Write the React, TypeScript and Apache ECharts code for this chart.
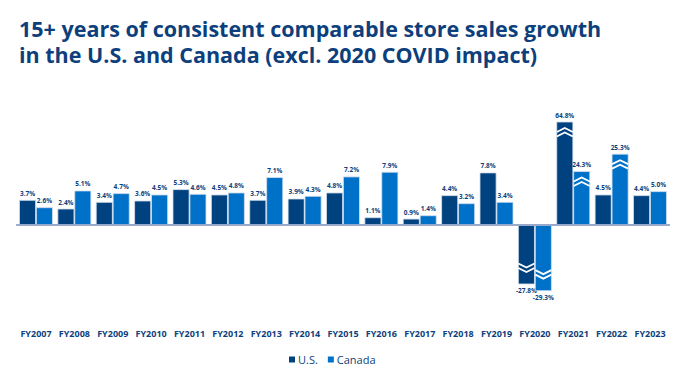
import React, { useEffect, useRef } from "react";
import * as echarts from "echarts";

const categories = [
  "FY2007", "FY2008", "FY2009", "FY2010", "FY2011", "FY2012", "FY2013", "FY2014", "FY2015",
  "FY2016", "FY2017", "FY2018", "FY2019", "FY2020", "FY2021", "FY2022", "FY2023",
];
const usValues = [3.7, 2.4, 3.4, 3.6, 5.3, 4.5, 3.7, 3.9, 4.8, 1.1, 0.9, 4.4, 7.8, -27.8, 64.8, 4.5, 4.4];
const canadaValues = [2.6, 5.1, 4.7, 4.5, 4.6, 4.8, 7.1, 4.3, 7.2, 7.9, 1.4, 3.2, 3.4, -29.3, 24.3, 25.3, 5.0];
// Broken (truncated) bars: height at which the bar is drawn, by category
const usBroken: Record<string, number> = { FY2020: -8.8, FY2021: 15.4 };
const canadaBroken: Record<string, number> = { FY2020: -9.8, FY2021: 8.0, FY2022: 10.6 };
const titleLines = [
  "15+ years of consistent comparable store sales growth",
  "in the U.S. and Canada (excl. 2020 COVID impact)",
];

const US_COLOR = "#00427f";
const CA_COLOR = "#0071c9";
const TEXT = "#0d3f7c";
const FONT = "'Open Sans', sans-serif";

function buildData(values: number[], broken: Record<string, number>) {
  return values.map((v, i) => {
    const b = broken[categories[i]];
    return [i, b !== undefined ? b : v, v, b !== undefined ? 1 : 0];
  });
}

function makeRender(side: "us" | "ca", color: string) {
  return (params: any, api: any) => {
    const i = api.value(0);
    const shown = api.value(1);
    const actual = api.value(2);
    const broken = api.value(3);
    const base = api.coord([i, 0]);
    const end = api.coord([i, shown]);
    const band = api.size([1, 0])[0];
    const w = band * 0.42;
    const x0 = side === "us" ? base[0] - w - 0.4 : base[0] + 0.4;
    const y0 = Math.min(base[1], end[1]);
    const h = Math.abs(end[1] - base[1]);
    const children: any[] = [
      {
        type: "rect",
        shape: { x: x0, y: y0, width: w, height: h },
        style: { fill: color, stroke: "#d5e0ee", lineWidth: 0.8 },
      },
    ];
    if (broken) {
      for (let k = 0; k < 2; k++) {
        let pts: number[][];
        if (shown > 0) {
          const yp = end[1] + 6 + k * 4.5;
          pts = [[x0, yp + 4], [x0 + w / 2, yp], [x0 + w, yp + 4]];
        } else {
          const yp = end[1] - 12 - k * 4.5;
          pts = [[x0, yp - 4], [x0 + w / 2, yp], [x0 + w, yp - 4]];
        }
        children.push({
          type: "polyline",
          shape: { points: pts },
          style: { stroke: "#ffffff", lineWidth: 1.8, fill: null },
        });
      }
    }
    children.push({
      type: "text",
      style: {
        text: actual.toFixed(1) + "%",
        x: x0 + w / 2,
        y: shown >= 0 ? end[1] - 7 : end[1] + 7,
        align: "center",
        verticalAlign: "middle",
        fill: TEXT,
        font: `bold 6.5px ${FONT}`,
      },
    });
    return { type: "group", children };
  };
}

export default function App() {
  const ref = useRef<HTMLDivElement>(null);
  useEffect(() => {
    if (!ref.current) return;
    const chart = echarts.init(ref.current, null, { renderer: "svg" });
    const titleStyle = {
      color: TEXT,
      fontFamily: FONT,
      fontWeight: "bold",
      fontSize: 21.5,
      lineHeight: 22,
    };
    chart.setOption({
      animation: false,
      backgroundColor: "#ffffff",
      title: titleLines.map((t, k) => ({
        text: t,
        left: 19,
        top: 17 + k * 26,
        padding: 0,
        textStyle: titleStyle,
      })),
      legend: {
        left: 284,
        top: 349,
        itemWidth: 6,
        itemHeight: 6,
        itemGap: 10,
        icon: "rect",
        textStyle: { color: TEXT, fontFamily: FONT, fontSize: 11, padding: [0, 0, 0, -2] },
        data: ["U.S.", "Canada"],
      },
      grid: { left: 16.8, right: 9.8, top: 118, height: 174 },
      xAxis: [
        {
          type: "category",
          data: categories,
          z: 5,
          axisLine: { onZero: true, lineStyle: { color: "#98aacb", width: 2 } },
          axisTick: { show: false },
          axisLabel: { show: false },
        },
        {
          type: "category",
          data: categories,
          position: "bottom",
          axisLine: { show: false, onZero: false },
          axisTick: { show: false },
          axisLabel: {
            margin: 37,
            color: TEXT,
            fontFamily: FONT,
            fontWeight: "bold",
            fontSize: 9,
            interval: 0,
          },
        },
      ],
      yAxis: { type: "value", min: -10, max: 16, show: false, splitLine: { show: false } },
      series: [
        {
          name: "U.S.",
          type: "custom",
          xAxisIndex: 0,
          itemStyle: { color: US_COLOR },
          encode: { x: 0, y: 1 },
          renderItem: makeRender("us", US_COLOR),
          data: buildData(usValues, usBroken),
        },
        {
          name: "Canada",
          type: "custom",
          xAxisIndex: 0,
          itemStyle: { color: CA_COLOR },
          encode: { x: 0, y: 1 },
          renderItem: makeRender("ca", CA_COLOR),
          data: buildData(canadaValues, canadaBroken),
        },
      ],
    });
    return () => chart.dispose();
  }, []);
  return <div ref={ref} style={{ position: "fixed", left: 0, top: 0, width: 679, height: 382 }} />;
}
